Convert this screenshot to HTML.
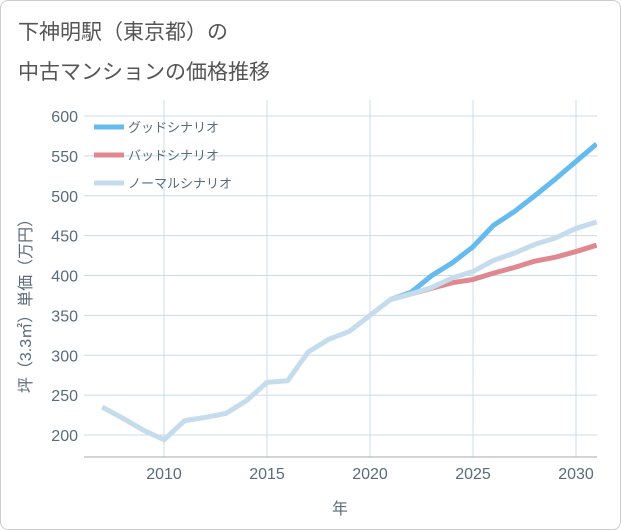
<!DOCTYPE html>
<html><head><meta charset="utf-8"><style>
body{margin:0;background:#fff;font-family:"Liberation Sans","Noto Sans CJK JP",sans-serif}
#frame{position:absolute;left:0;top:0;width:619px;height:528px;border:1px solid #ccc;border-radius:8px;background:#fff}
.title{position:absolute;left:18px;font-size:21px;color:#555}
</style></head><body>
<div id="frame"></div>
<div class="title" style="top:16px">下神明駅（東京都）の</div>
<div class="title" style="top:56px">中古マンションの価格推移</div>
<svg id="chart" width="621" height="530" style="position:absolute;left:0;top:0"></svg>
<script>
const years=[2007,2008,2009,2010,2011,2012,2013,2014,2015,2016,2017,2018,2019,2020,2021,2022,2023,2024,2025,2026,2027,2028,2029,2030,2031];
const normalVals=[235,221,206,194,218,222,227,243,266,268,304,320,330,350,370,377,385,397,405,419,428,439,447,459,467];
const goodYears=[2021,2022,2023,2024,2025,2026,2027,2028,2029,2030,2031];
const goodVals=[370,379,400,416,436,463,480,500,521,543,565];
const badVals=[370,377,384,391,395,403,410,418,423,430,438];
const xTicks=[2010,2015,2020,2025,2030];
const yTicks=[200,250,300,350,400,450,500,550,600];
const L=84,R=597,T=100,B=457;
const x=v=>164+(v-2010)*20.6;
const y=v=>435-(v-200)*0.7975;
const svg=document.getElementById('chart');
const NS='http://www.w3.org/2000/svg';
function mk(t,a){const e=document.createElementNS(NS,t);for(const k in a)e.setAttribute(k,a[k]);svg.appendChild(e);return e;}
xTicks.forEach(t=>{const g=mk('line',{x1:x(t),x2:x(t),y1:T,y2:B,stroke:'#c8dcea','stroke-width':1});

});
yTicks.forEach(t=>{const g=mk('line',{x1:L,x2:R,y1:y(t),y2:y(t),stroke:'#c8dcea','stroke-width':1});

});
const ax=mk('line',{x1:L,x2:R,y1:B,y2:B,stroke:'#aaa','stroke-width':1});


xTicks.forEach(t=>{const e=mk('text',{x:x(t),y:479,'text-anchor':'middle','font-size':16,fill:'#5a6b7b'});e.textContent=t;

});
yTicks.forEach(t=>{const e=mk('text',{x:78,y:y(t)+6,'text-anchor':'end','font-size':16,fill:'#5a6b7b'});e.textContent=t;

});
const xt=mk('text',{x:340,y:514,'text-anchor':'middle','font-size':16,fill:'#5a6b7b'});xt.textContent='年';


const yt=mk('text',{transform:'translate(31,302) rotate(-90)','text-anchor':'middle','font-size':16,fill:'#5a6b7b'});yt.textContent='坪（3.3㎡）単価（万円）';


const cp=mk('clipPath',{id:'clip'});const cr=document.createElementNS(NS,'rect');cr.setAttribute('x',L);cr.setAttribute('y',T);cr.setAttribute('width',R-L);cr.setAttribute('height',B-T);cp.appendChild(cr);
function line(xs,vs,c,name){const p=mk('polyline',{points:xs.map((v,i)=>x(v)+','+y(vs[i])).join(' '),fill:'none',stroke:c,'stroke-width':5,'stroke-linejoin':'round','clip-path':'url(#clip)'});

}
line(goodYears,goodVals,'#66bbee','good-scenario-line');
line(goodYears,badVals,'#e08890','bad-scenario-line');
line(years,normalVals,'#c4dceb','normal-scenario-line');
[['グッドシナリオ','#66bbee',127],['バッドシナリオ','#e08890',155],['ノーマルシナリオ','#c4dceb',183]].forEach(([t,c,yy])=>{
const l=mk('line',{x1:94,x2:124,y1:yy,y2:yy,stroke:c,'stroke-width':5});


const e=mk('text',{x:128,y:yy+5,'font-size':13,fill:'#5a6b7b'});e.textContent=t;

});
</script>
</body></html>
